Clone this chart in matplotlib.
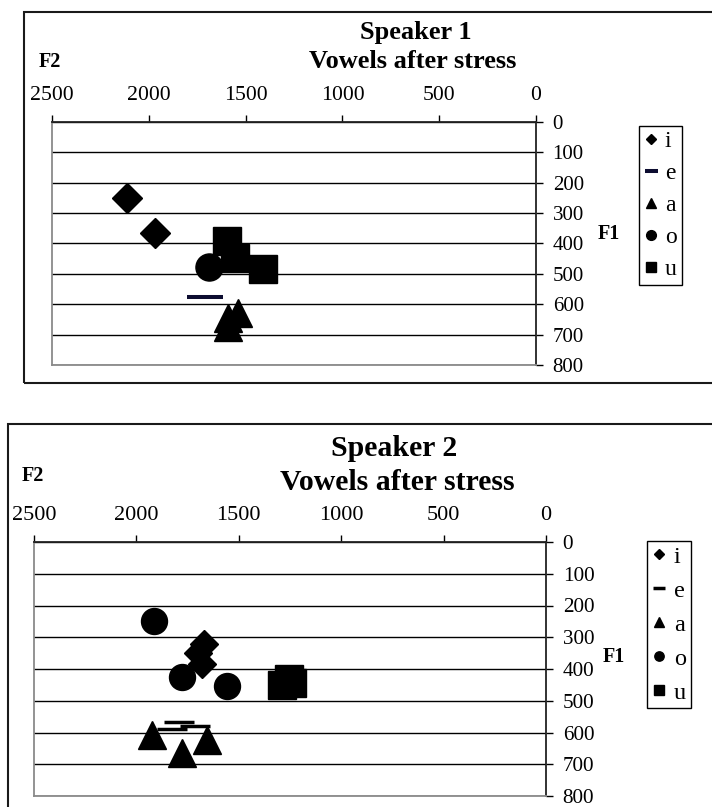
import matplotlib
matplotlib.use('Agg')
import matplotlib.pyplot as plt
from matplotlib.patches import Rectangle

W, H = 712, 807

VOWELS = ['i', 'e', 'a', 'o', 'u']
MARKERS = {'i': 'D', 'e': '_', 'a': '^', 'o': 'o', 'u': 's'}

# speaker 1, (F2, F1) in Hz
s1_i_f2 = [2115, 1970]
s1_i_f1 = [250, 365]
s1_e_f2 = [1710]
s1_e_f1 = [578]
s1_a_f2 = [1538, 1590, 1590]
s1_a_f1 = [628, 646, 674]
s1_o_f2 = [1687]
s1_o_f1 = [477]
s1_u_f2 = [1595, 1555, 1409]
s1_u_f1 = [391, 449, 484]

# speaker 2
s2_i_f2 = [1671, 1701, 1681]
s2_i_f1 = [322, 349, 384]
s2_e_f2 = [1790, 1715, 1825]
s2_e_f1 = [568, 580, 590]
s2_a_f2 = [1924, 1779, 1655]
s2_a_f1 = [609, 664, 625]
s2_o_f2 = [1913, 1776, 1559]
s2_o_f1 = [248, 424, 453]
s2_u_f2 = [1255, 1239, 1291]
s2_u_f1 = [432, 443, 451]

x_ticks = [2500, 2000, 1500, 1000, 500, 0]
y_ticks = [0, 100, 200, 300, 400, 500, 600, 700, 800]

SERIF = 'Liberation Serif'


def fx(x):
    return x / W


def fy(y):
    return 1 - y / H


def draw_chart(fig, rect, data, sizes, title, texts, legend_pos, fonts, dash_color):
    # rect = (left, top, right, bottom) in pixels
    l, t, r, b = rect
    ax = fig.add_axes([fx(l), fy(b), fx(r - l), (b - t) / H])
    for v in VOWELS:
        f2, f1 = data[v]
        ms, mew = sizes[v]
        color = dash_color if v == 'e' else 'black'
        ax.plot(f2, f1, linestyle='none', marker=MARKERS[v], ms=ms, mew=mew,
                color=color, label=v, zorder=3)

    ax.set_xlim(2500, 0)
    ax.set_ylim(800, 0)
    ax.xaxis.tick_top()
    ax.yaxis.tick_right()
    ax.set_xticks(x_ticks)
    ax.set_yticks(y_ticks)
    ax.tick_params(axis='both', direction='out', length=5, width=1, colors='black')
    ax.tick_params(axis='x', labelsize=fonts['x'], pad=7)
    ax.tick_params(axis='y', labelsize=fonts['y'], pad=7)
    for lab in ax.get_xticklabels() + ax.get_yticklabels():
        lab.set_family(SERIF)
    ax.grid(axis='y', color='black', lw=1, zorder=1)
    ax.grid(axis='x', visible=False)
    ax.spines['top'].set_color('#222222')
    ax.spines['right'].set_color('#222222')
    ax.spines['left'].set_color('#8a8a8a')
    ax.spines['bottom'].set_color('#8a8a8a')
    for s in ax.spines.values():
        s.set_linewidth(1.3)

    leg = ax.legend(loc='upper left', bbox_to_anchor=(fx(legend_pos[0]), fy(legend_pos[1])),
                    bbox_transform=fig.transFigure, borderaxespad=0, frameon=True,
                    fancybox=False, framealpha=1, edgecolor='black', markerscale=0.36,
                    handlelength=0.6, handletextpad=0.3, labelspacing=fonts['spacing'],
                    borderpad=0.2, prop={'family': SERIF, 'size': fonts['leg']})
    leg.get_frame().set_linewidth(1)

    (t1, p1), (t2, p2) = title
    fig.text(fx(p1[0]), fy(p1[1]), t1, ha='center', va='center', family=SERIF,
             weight='bold', size=fonts['title'])
    fig.text(fx(p2[0]), fy(p2[1]), t2, ha='center', va='center', family=SERIF,
             weight='bold', size=fonts['title'])
    for txt, pos in texts:
        fig.text(fx(pos[0]), fy(pos[1]), txt, ha='center', va='center', family=SERIF,
                 weight='bold', size=fonts['lab'])
    return ax


def main():
    fig = plt.figure(figsize=(W / 100, H / 100), dpi=100)

    # outer chart borders
    fig.add_artist(Rectangle((fx(24), fy(383)), fx(720 - 24), (383 - 12) / H,
                             transform=fig.transFigure, fill=False, ec='#1a1a1a', lw=1.5))
    fig.add_artist(Rectangle((fx(8), fy(830)), fx(720 - 8), (830 - 424) / H,
                             transform=fig.transFigure, fill=False, ec='#1a1a1a', lw=1.5))

    data1 = {'i': (s1_i_f2, s1_i_f1), 'e': (s1_e_f2, s1_e_f1), 'a': (s1_a_f2, s1_a_f1),
             'o': (s1_o_f2, s1_o_f1), 'u': (s1_u_f2, s1_u_f1)}
    sizes1 = {'i': (15.3, 1), 'e': (26, 2.9), 'a': (19.5, 1), 'o': (19.5, 1), 'u': (20, 1)}
    draw_chart(fig, (52, 121.7, 536, 365), data1, sizes1,
               [('Speaker 1', (416, 33)), ('Vowels after stress', (413, 62))],
               [('F2', (50, 62)), ('F1', (609, 234))], (639, 126),
               {'x': 15.7, 'y': 15, 'title': 19, 'lab': 14.5, 'leg': 17, 'spacing': 0.44},
               '#0c0c30')

    data2 = {'i': (s2_i_f2, s2_i_f1), 'e': (s2_e_f2, s2_e_f1), 'a': (s2_a_f2, s2_a_f1),
             'o': (s2_o_f2, s2_o_f1), 'u': (s2_u_f2, s2_u_f1)}
    sizes2 = {'i': (14.3, 1), 'e': (22.3, 2.5), 'a': (19.5, 1), 'o': (18.7, 1), 'u': (19.5, 1)}
    draw_chart(fig, (34, 542, 546, 796), data2, sizes2,
               [('Speaker 2', (394, 449)), ('Vowels after stress', (397, 482))],
               [('F2', (33, 476)), ('F1', (614, 657))], (647, 541),
               {'x': 16, 'y': 15.2, 'title': 21.4, 'lab': 14.5, 'leg': 17.5, 'spacing': 0.49},
               'black')

    fig.savefig('out.png', dpi=100)


if __name__ == '__main__':
    main()
